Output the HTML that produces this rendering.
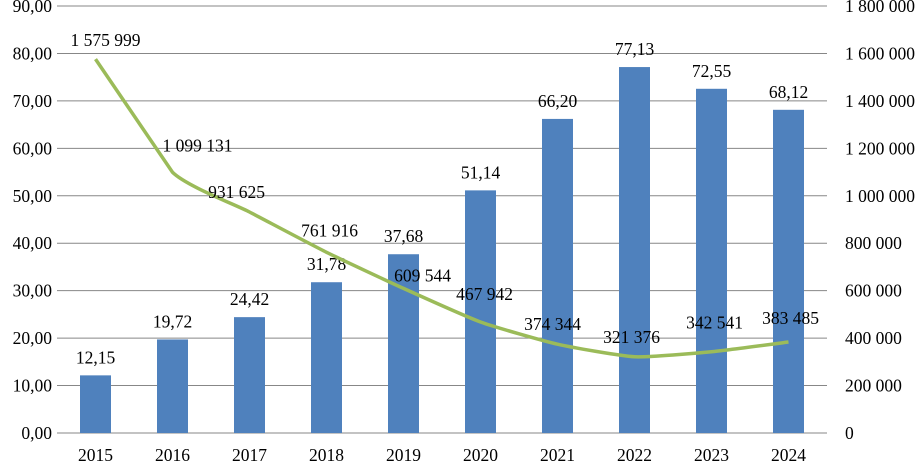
<!DOCTYPE html>
<html><head><meta charset="utf-8"><style>
body{margin:0;background:#fff}
svg text{font-family:"Liberation Serif",serif;font-size:17.5px;fill:#000}
</style></head><body>
<svg id="c" width="917" height="463"></svg>
<script>
const years=["2015","2016","2017","2018","2019","2020","2021","2022","2023","2024"];
const barValues=[12.15,19.72,24.42,31.78,37.68,51.14,66.20,77.13,72.55,68.12];
const lineValues=[1575999,1099131,931625,761916,609544,467942,374344,321376,342541,383485];
const leftTicks=[0,10,20,30,40,50,60,70,80,90];
const rightTicks=[0,200000,400000,600000,800000,1000000,1200000,1400000,1600000,1800000];
const labelDx=[10,25,-13,3,19,4,-5,-3,3,2];
const labelDy=[-19,-27,-20,-22,-13,-28,-20,-20,-29,-24];
const NS="http://www.w3.org/2000/svg",svg=document.getElementById('c');
const L=57,R=827,T=6,B=433;
const bw=(R-L)/years.length;
const xC=i=>L+bw*(i+0.5);
const yL=v=>B-(v/90)*(B-T);
const yR=v=>B-(v/1800000)*(B-T);
function el(t,a,p){const e=document.createElementNS(NS,t);for(const k in a)e.setAttribute(k,a[k]);(p||svg).appendChild(e);return e;}
const fmtD=v=>v.toFixed(2).replace('.',',');
const fmtS=v=>String(v).replace(/\B(?=(\d{3})+(?!\d))/g,' ');
leftTicks.forEach((v,i)=>{
 const g=el('line',{x1:L,x2:R,y1:yL(v),y2:yL(v),stroke:'#878787','stroke-width':1});
 
 
 const t=el('text',{x:52,y:yL(v)+6,'text-anchor':'end'});t.textContent=fmtD(v);
 
 
});
rightTicks.forEach(v=>{
 const t=el('text',{x:845,y:yR(v)+6});t.textContent=v===0?'0':fmtS(v);
 
 
});
years.forEach((y,i)=>{
 const t=el('text',{x:xC(i),y:461,'text-anchor':'middle'});t.textContent=y;
 
 
 const b=el('rect',{x:xC(i)-15.5,y:yL(barValues[i]),width:31,height:B-yL(barValues[i]),fill:'#4F81BD'});
 
 
 const bl=el('text',{x:xC(i),y:yL(barValues[i])-12,'text-anchor':'middle'});bl.textContent=fmtD(barValues[i]);
 
 
});
const P=lineValues.map((v,i)=>[xC(i),yR(v)]);
let d='M'+P[0][0]+','+P[0][1];
for(let i=0;i<P.length-1;i++){
 const p0=P[Math.max(i-1,0)],p1=P[i],p2=P[i+1],p3=P[Math.min(i+2,P.length-1)];
 const k=i<1?0:0.09;
 d+=' C'+(p1[0]+(p2[0]-p0[0])*k)+','+(p1[1]+(p2[1]-p0[1])*k)+' '+(p2[0]-(p3[0]-p1[0])*k)+','+(p2[1]-(p3[1]-p1[1])*k)+' '+p2[0]+','+p2[1];
}
const pl=el('path',{d:d,fill:'none',stroke:'#9BBB59','stroke-width':3.5,'stroke-linejoin':'round'});


lineValues.forEach((v,i)=>{
 const t=el('text',{x:xC(i)+labelDx[i],y:yR(v)+labelDy[i]+6,'text-anchor':'middle'});t.textContent=fmtS(v);
 
 
});
</script>
</body></html>
